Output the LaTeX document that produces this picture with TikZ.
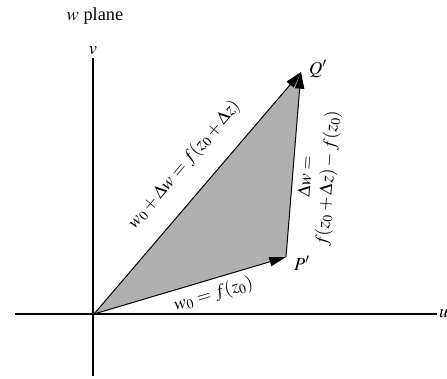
\documentclass[tikz,border=0pt]{standalone}
\usepackage{mathptmx}
\usepackage{fontspec}
\setmainfont{Liberation Serif}
\usetikzlibrary{arrows.meta}
\definecolor{PlaneGray}{RGB}{176, 176, 176}

\begin{document}
\begin{tikzpicture}[x=0.6pt, y=-0.6pt, font=\fontsize{11}{13}\selectfont]
    \useasboundingbox (0,0) rectangle (447,379);
    % axes of the w plane
    \coordinate (uL) at (15,314);  \coordinate (uR) at (437,314);
    \coordinate (vB) at (93,376);  \coordinate (vT) at (93,58);
    \draw[line width=0.8pt] (uL) -- (uR);
    \draw[line width=0.8pt] (vB) -- (vT);
    \node[anchor=west, inner sep=1pt] (ulab) at (uR) {$u$};
    \node[anchor=south, inner sep=2pt] (vlab) at (vT) {$v$};
    \node (plane) at (95,16) {$w$ plane};

    % image points
    \coordinate (O) at (94,314);
    \coordinate (P) at (286,257);
    \coordinate (Q) at (301,72);
    \fill[PlaneGray] (O) -- (P) -- (Q) -- cycle;
    \draw[line width=0.6pt, -{Triangle[length=10pt, width=5.5pt]}] (O) -- node[sloped, below, pos=0.6] (lblw) {$w_0 = f(z_0)$} (P);
    \draw[line width=0.6pt, -{Triangle[length=10pt, width=5.5pt]}] (O) -- node[sloped, above=8pt, pos=0.54] (lblsum) {$w_0 + \Delta w = f(z_0 + \Delta z)$} (Q);
    \draw[line width=0.6pt, -{Triangle[length=10pt, width=5.5pt]}] (P) -- node[sloped, below, pos=0.44, align=center] (lbldw) {$\Delta w =$\\ $f(z_0 + \Delta z) - f(z_0)$} (Q);

    \node (Plab) at (302,263) {$P'$};
    \node (Qlab) at (318,69) {$Q'$};
\end{tikzpicture}
\end{document}
